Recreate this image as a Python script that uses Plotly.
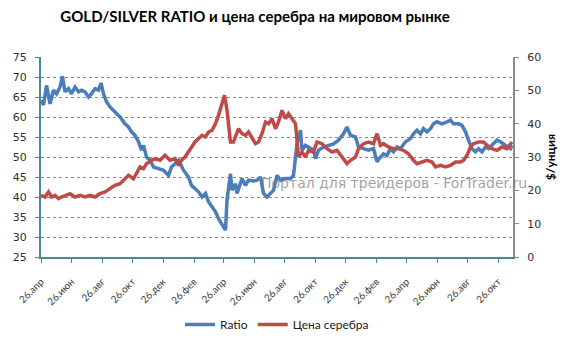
import pandas as pd
import plotly.graph_objects as go

start_date = "2010-04-26"

ratio_days = [0, 5, 11, 18, 25, 31, 38, 43, 48, 55, 61, 68, 75, 81, 88, 95, 101, 108, 115, 120,
              125, 131, 138, 148, 158, 168, 175, 181, 188, 195, 201, 205, 211, 218, 225, 235, 245,
              255, 261, 268, 275, 285, 295, 301, 308, 315, 322, 329, 335, 342, 349, 355, 362, 369,
              372, 375, 379, 382, 389, 392, 399, 402, 409, 415, 425, 432, 439, 445, 452, 459, 465,
              472, 479, 489, 499, 505, 509, 512, 519, 522, 529, 535, 545, 549, 555, 565, 575, 585,
              595, 605, 612, 619, 629, 635, 645, 655, 665, 672, 679, 685, 692, 699, 705, 712, 719,
              729, 739, 745, 752, 759, 765, 772, 779, 785, 792, 802, 812, 819, 825, 835, 842, 849,
              855, 862, 869, 875, 882, 889, 895, 905, 912, 919, 925, 932, 939, 942]
ratio_values = [64.2, 63.0, 67.9, 63.3, 66.7, 65.8, 67.5, 70.2, 66.3, 67.1, 65.8, 67.5, 66.3, 66.7,
                66.3, 65.0, 65.8, 67.1, 66.7, 68.5, 65.8, 63.8, 62.5, 61.3, 60.0, 58.3, 57.5, 56.3,
                55.4, 53.8, 51.7, 52.9, 50.0, 49.2, 47.5, 47.1, 46.7, 45.4, 47.5, 48.3, 49.2, 46.7,
                45.0, 42.9, 42.1, 41.3, 40.0, 40.9, 38.8, 37.5, 36.3, 34.6, 33.3, 31.7, 39.2, 42.5,
                45.8, 41.7, 43.3, 40.9, 43.3, 44.6, 42.9, 44.2, 44.0, 44.2, 45.0, 40.9, 40.0, 40.9,
                41.7, 45.4, 44.2, 44.6, 44.6, 45.4, 49.2, 53.3, 56.7, 51.7, 52.9, 52.5, 51.7, 49.6,
                51.7, 52.5, 52.9, 53.3, 54.2, 55.8, 57.5, 55.4, 55.0, 52.5, 52.1, 51.7, 52.1, 48.8,
                50.0, 50.8, 50.4, 52.1, 51.3, 52.5, 52.1, 53.8, 54.6, 55.8, 56.7, 55.8, 57.1, 56.3,
                57.1, 58.3, 58.8, 58.3, 58.8, 59.2, 58.3, 58.3, 57.9, 56.3, 54.2, 52.1, 51.3, 52.1,
                51.3, 52.5, 52.1, 53.3, 54.2, 53.8, 53.3, 52.9, 52.1, 52.9]

silver_days = [0, 8, 15, 21, 28, 35, 41, 48, 58, 68, 78, 88, 98, 108, 118, 128, 138, 148, 158, 168,
               175, 185, 191, 198, 205, 211, 221, 228, 238, 248, 258, 268, 275, 281, 288, 298, 308,
               315, 322, 329, 335, 342, 349, 355, 362, 367, 372, 375, 379, 385, 389, 395, 402, 409,
               415, 422, 429, 435, 442, 449, 455, 462, 469, 475, 482, 489, 495, 502, 509, 512, 515,
               522, 529, 535, 545, 552, 562, 572, 582, 592, 602, 612, 619, 629, 635, 645, 655, 665,
               672, 679, 685, 695, 705, 715, 725, 735, 745, 752, 762, 772, 782, 789, 799, 809, 819,
               829, 839, 845, 852, 859, 865, 875, 885, 892, 902, 912, 922, 932, 942]
silver_values = [18.5, 18.0, 19.5, 18.0, 18.5, 17.5, 18.0, 18.5, 19.0, 18.0, 18.5, 18.0, 18.5, 18.0,
                 19.0, 19.5, 20.5, 21.5, 22.0, 23.5, 24.5, 23.5, 25.0, 27.0, 26.5, 28.0, 29.0, 29.5,
                 29.0, 30.5, 29.0, 29.5, 27.5, 29.0, 30.0, 32.5, 34.5, 35.5, 36.5, 36.0, 37.5, 38.0,
                 40.0, 42.5, 46.0, 48.5, 44.0, 39.0, 34.5, 34.5, 36.0, 38.5, 37.0, 36.5, 37.5, 35.5,
                 34.0, 34.5, 37.0, 40.5, 40.0, 41.5, 38.5, 40.5, 44.0, 41.5, 43.0, 41.5, 40.0, 35.0,
                 30.0, 31.5, 30.0, 32.0, 31.5, 34.5, 34.0, 32.5, 31.5, 32.0, 30.0, 28.0, 29.0, 30.0,
                 32.5, 34.0, 34.5, 34.0, 37.0, 33.5, 34.0, 33.0, 32.5, 32.5, 32.0, 31.0, 29.0, 28.0,
                 28.5, 29.0, 28.5, 27.0, 27.5, 27.0, 27.5, 28.5, 28.5, 29.0, 30.5, 33.0, 34.0, 34.5,
                 34.5, 33.5, 32.5, 32.0, 33.0, 32.5, 34.5]

tick_dates = ["2010-04-26", "2010-06-26", "2010-08-26", "2010-10-26", "2010-12-26",
              "2011-02-26", "2011-04-26", "2011-06-26", "2011-08-26", "2011-10-26",
              "2011-12-26", "2012-02-26", "2012-04-26", "2012-06-26", "2012-08-26",
              "2012-10-26"]
tick_labels = ["26.апр", "26.июн", "26.авг", "26.окт", "26.дек", "26.фев", "26.апр", "26.июн",
               "26.авг", "26.окт", "26.дек", "26.фев", "26.апр", "26.июн", "26.авг", "26.окт"]
x_end = "2012-11-25"

base = pd.Timestamp(start_date)
ratio_x = [base + pd.Timedelta(days=d) for d in ratio_days]
silver_x = [base + pd.Timedelta(days=d) for d in silver_days]

fig = go.Figure()
fig.add_trace(go.Scatter(x=ratio_x, y=ratio_values, mode="lines", name="Ratio",
                         line=dict(color="#4A7EBB", width=3.5), yaxis="y"))
fig.add_trace(go.Scatter(x=silver_x, y=silver_values, mode="lines", name="Цена серебра",
                         line=dict(color="#BE4B48", width=3.5), yaxis="y2"))

fig.update_layout(
    width=574, height=341,
    margin=dict(l=41, r=61, t=57, b=84, autoexpand=False),
    paper_bgcolor="white", plot_bgcolor="white",
    title=dict(text="<b>GOLD/SILVER RATIO и цена серебра на мировом рынке</b>",
               x=255 / 574, xanchor="center", y=1 - 17 / 341, yanchor="middle",
               font=dict(family="Lato", size=15, color="#000000")),
    xaxis=dict(type="date", range=[start_date, x_end], tickmode="array",
               tickvals=tick_dates, ticktext=tick_labels, tickangle=-45,
               showgrid=False, zeroline=False, showline=True, linecolor="#4A8A95",
               linewidth=2, ticks="outside", ticklen=4, tickcolor="#4A8A95",
               ticklabelstandoff=9, automargin=False,
               tickfont=dict(family="Lato", size=10, color="#404040")),
    yaxis=dict(range=[25, 75], dtick=5, showgrid=True, gridcolor="#8C8C8C",
               griddash="dot", gridwidth=1, zeroline=False, showline=True,
               linecolor="#4A8A95", linewidth=2, ticks="outside", ticklen=4,
               tickcolor="#4A8A95", ticklabelstandoff=6, automargin=False,
               tickfont=dict(family="DejaVu Sans", size=11, color="#303030")),
    yaxis2=dict(range=[0, 60], dtick=10, overlaying="y", side="right", showgrid=False,
                zeroline=False, showline=True, linecolor="#8C8C8C", linewidth=2,
                ticks="outside", ticklen=4, tickcolor="#8C8C8C", ticklabelstandoff=6,
                automargin=False,
                tickfont=dict(family="DejaVu Sans", size=11, color="#303030"),
                title=dict(text="<b>$/унция</b>", standoff=6,
                           font=dict(family="Lato", size=12, color="#000000"))),
    legend=dict(orientation="h", x=0.5, xanchor="center", y=-0.265, yanchor="top",
                font=dict(family="Lato", size=12, color="#202020"),
                bgcolor="rgba(0,0,0,0)"),
    showlegend=True,
    annotations=[dict(text="Портал для трейдеров - ForTrader.ru", xref="paper", yref="paper",
                      x=(259 - 41) / 472, y=(257 - 183) / 200, xanchor="left", yanchor="middle",
                      showarrow=False,
                      font=dict(family="DejaVu Sans", size=14, color="rgba(120,120,120,0.7)"))],
)

fig.write_html("out.html")
